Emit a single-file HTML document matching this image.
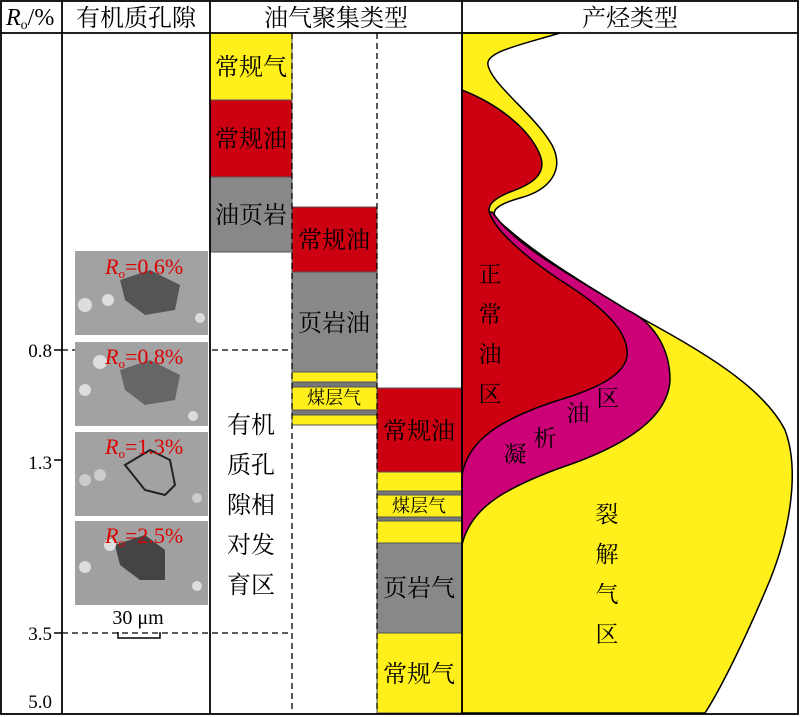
<!DOCTYPE html>
<html><head><meta charset="utf-8"><style>
html,body{margin:0;padding:0;background:#fff;}
svg{display:block;}
text{font-family:"Liberation Serif","Noto Serif CJK SC","Noto Sans CJK SC",serif;}
</style></head><body>
<svg width="800" height="717" viewBox="0 0 800 717" xmlns="http://www.w3.org/2000/svg">
<rect x="0" y="0" width="800" height="717" fill="#fff"/>
<path d="M462,33 L560,33 C520,45 485,52 488,65 C492,85 535,115 552,145 C565,170 550,190 520,198 C495,205 488,212 500,222 C530,250 570,275 627,310 C680,340 760,380 785,430 C800,470 790,530 770,580 C745,640 720,690 705,713 L462,713 Z" fill="#ffef1a" stroke="#000" stroke-width="1.5"/>
<path d="M462,545 C470,510 500,490 560,468 C620,448 668,420 670,380 C670,345 650,320 627,310 C580,280 530,255 500,222 L492,212 L462,212 Z" fill="#cc0077" stroke="#000" stroke-width="1.5"/>
<path d="M462,90 C500,105 530,130 540,155 C548,175 530,185 510,192 C490,200 485,208 492,218 C500,235 530,260 560,280 C600,305 630,330 627,357 C622,380 585,392 553,402 C500,420 468,440 462,475 Z" fill="#cc0011" stroke="#000" stroke-width="1.5"/>
<g font-size="23" fill="#000">
<text x="490" y="282" text-anchor="middle">正</text>
<text x="490" y="322" text-anchor="middle">常</text>
<text x="490" y="362" text-anchor="middle">油</text>
<text x="490" y="402" text-anchor="middle">区</text>
<text x="515" y="462" text-anchor="middle">凝</text>
<text x="545" y="446" text-anchor="middle">析</text>
<text x="578" y="421" text-anchor="middle">油</text>
<text x="608" y="406" text-anchor="middle">区</text>
<text x="607" y="522" text-anchor="middle">裂</text>
<text x="607" y="562" text-anchor="middle">解</text>
<text x="607" y="602" text-anchor="middle">气</text>
<text x="607" y="642" text-anchor="middle">区</text>
</g>
<g stroke="#555" stroke-width="1">
<rect x="210" y="33" width="82" height="67" fill="#ffef1a"/>
<rect x="210" y="100" width="82" height="77" fill="#cc0011"/>
<rect x="210" y="177" width="82" height="75" fill="#888"/>
<rect x="292" y="207" width="85" height="65" fill="#cc0011"/>
<rect x="292" y="272" width="85" height="100" fill="#888"/>
<rect x="292" y="372" width="85" height="53" fill="#ffef1a"/>
<rect x="292" y="382" width="85" height="5" fill="#777"/>
<rect x="292" y="410" width="85" height="5" fill="#777"/>
<rect x="377" y="388" width="85" height="84" fill="#cc0011"/>
<rect x="377" y="472" width="85" height="71" fill="#ffef1a"/>
<rect x="377" y="491" width="85" height="4" fill="#777"/>
<rect x="377" y="517" width="85" height="4" fill="#777"/>
<rect x="377" y="543" width="85" height="90" fill="#888"/>
<rect x="377" y="633" width="85" height="80" fill="#ffef1a"/>
</g>
<g font-size="24" fill="#000" text-anchor="middle">
<text x="251" y="75">常规气</text>
<text x="251" y="147">常规油</text>
<text x="251" y="223">油页岩</text>
<text x="334" y="248">常规油</text>
<text x="334" y="331">页岩油</text>
<text x="419" y="439">常规油</text>
<text x="419" y="596">页岩气</text>
<text x="419" y="682">常规气</text>
<text x="251" y="433">有机</text>
<text x="251" y="473">质孔</text>
<text x="251" y="513">隙相</text>
<text x="251" y="553">对发</text>
<text x="251" y="593">育区</text>
</g>
<g font-size="18" fill="#000" text-anchor="middle">
<text x="334" y="404">煤层气</text>
<text x="419" y="512">煤层气</text>
</g>
<g stroke="#000" stroke-width="1.3" stroke-dasharray="6,4" fill="none">
<line x1="292" y1="33" x2="292" y2="713"/>
<line x1="377" y1="33" x2="377" y2="713"/>
<line x1="62" y1="350" x2="292" y2="350"/>
<line x1="62" y1="633" x2="292" y2="633"/>
</g>
<g>
<rect x="75" y="251" width="133" height="84" fill="#a2a2a2"/>
<rect x="75" y="342" width="133" height="84" fill="#a2a2a2"/>
<rect x="75" y="432" width="133" height="84" fill="#a2a2a2"/>
<rect x="75" y="521" width="133" height="84" fill="#a0a0a0"/>
<path d="M120,280 l30,-10 l30,15 l-5,25 l-30,5 l-20,-15 z" fill="#555"/>
<path d="M120,370 l30,-10 l30,15 l-5,25 l-30,5 l-20,-15 z" fill="#666"/>
<path d="M125,465 l25,-15 l20,10 l5,25 l-10,10 l-20,-5 z" fill="none" stroke="#222" stroke-width="2"/>
<path d="M115,545 l30,-10 l20,15 l0,30 l-25,0 l-20,-15 z" fill="#444"/>
<circle cx="85" cy="305" r="7" fill="#ddd"/><circle cx="108" cy="300" r="6" fill="#ddd"/><circle cx="200" cy="318" r="5" fill="#ddd"/>
<circle cx="100" cy="362" r="7" fill="#ddd"/><circle cx="85" cy="390" r="6" fill="#ddd"/><circle cx="193" cy="416" r="5" fill="#ddd"/>
<circle cx="85" cy="480" r="6" fill="#ccc"/><circle cx="100" cy="475" r="6" fill="#ccc"/><circle cx="197" cy="498" r="5" fill="#ccc"/>
<circle cx="85" cy="567" r="6" fill="#ddd"/><circle cx="110" cy="545" r="6" fill="#ddd"/><circle cx="197" cy="586" r="5" fill="#ddd"/>
</g>
<g font-size="22" fill="#dd0000">
<text x="105" y="274"><tspan font-style="italic">R</tspan><tspan font-size="13" dy="4">o</tspan><tspan dy="-4">=0.6%</tspan></text>
<text x="105" y="364"><tspan font-style="italic">R</tspan><tspan font-size="13" dy="4">o</tspan><tspan dy="-4">=0.8%</tspan></text>
<text x="105" y="454"><tspan font-style="italic">R</tspan><tspan font-size="13" dy="4">o</tspan><tspan dy="-4">=1.3%</tspan></text>
<text x="105" y="543"><tspan font-style="italic">R</tspan><tspan font-size="13" dy="4">o</tspan><tspan dy="-4">=2.5%</tspan></text>
</g>
<text x="138" y="624" font-size="20" text-anchor="middle">30 μm</text>
<path d="M118,632 v6 h42 v-6" fill="none" stroke="#000" stroke-width="1.5"/>
<g font-size="19" text-anchor="end">
<text x="52" y="357">0.8</text>
<text x="52" y="469">1.3</text>
<text x="52" y="640">3.5</text>
<text x="52" y="708">5.0</text>
</g>
<g stroke="#000" stroke-width="1.5">
<line x1="54" y1="350" x2="62" y2="350"/>
<line x1="54" y1="460" x2="62" y2="460"/>
<line x1="54" y1="633" x2="62" y2="633"/>
</g>
<g stroke="#000" stroke-width="1.8" fill="none">
<rect x="1" y="1" width="797" height="713"/>
<line x1="1" y1="33" x2="798" y2="33"/>
<line x1="62" y1="1" x2="62" y2="714"/>
<line x1="210" y1="1" x2="210" y2="714"/>
<line x1="462" y1="1" x2="462" y2="714"/>
</g>
<g font-size="24" text-anchor="middle">
<text x="6" y="25" text-anchor="start"><tspan font-style="italic">R</tspan><tspan font-size="14" dy="4">o</tspan><tspan dy="-4">/%</tspan></text>
<text x="136" y="26">有机质孔隙</text>
<text x="336" y="26">油气聚集类型</text>
<text x="630" y="26">产烃类型</text>
</g>
</svg>
</body></html>
